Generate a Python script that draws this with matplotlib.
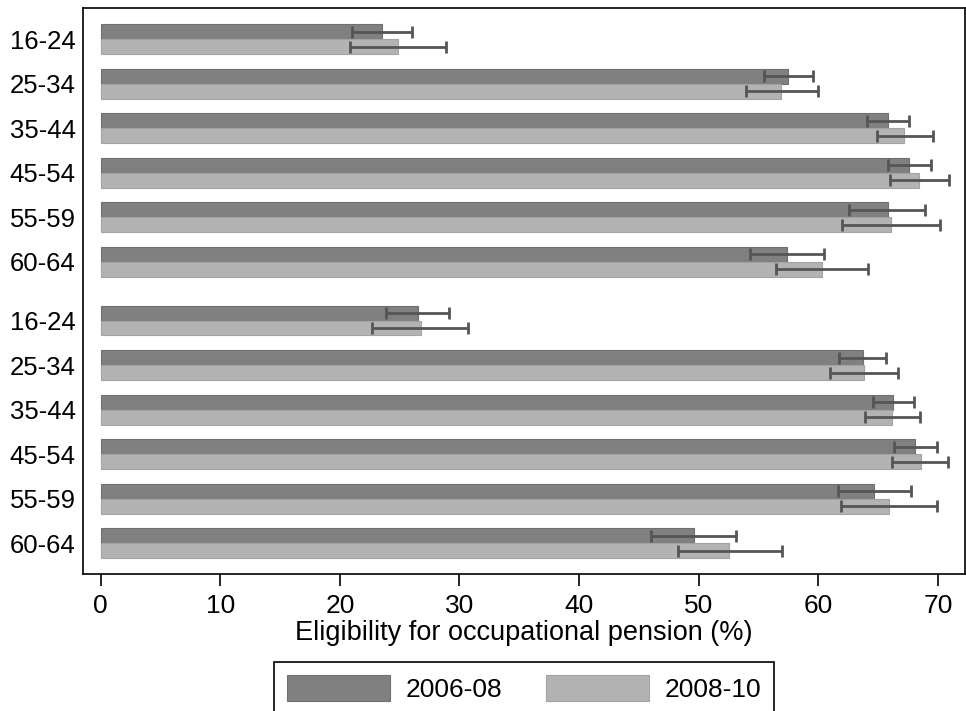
import numpy as np
import matplotlib
matplotlib.use('Agg')
import matplotlib.pyplot as plt

plt.rcParams['font.family'] = ['Liberation Sans', 'DejaVu Sans']

# two blocks of age bands, one after the other
age_bands = ['16-24', '25-34', '35-44', '45-54', '55-59', '60-64']
labels = age_bands + age_bands

# 2006-08
early = [23.5, 57.5, 65.8, 67.6, 65.8, 57.4, 26.5, 63.7, 66.25, 68.05, 64.7, 49.6]
early_lo = [21.0, 55.5, 64.1, 65.8, 62.6, 54.3, 23.85, 61.7, 64.6, 66.3, 61.65, 46.05]
early_hi = [26.05, 59.6, 67.6, 69.45, 68.9, 60.5, 29.1, 65.7, 68.0, 69.9, 67.75, 53.15]

# 2008-10
late = [24.9, 56.9, 67.2, 68.45, 66.05, 60.3, 26.75, 63.85, 66.2, 68.55, 65.9, 52.55]
late_lo = [20.85, 53.95, 64.9, 66.0, 61.95, 56.5, 22.7, 61.0, 63.9, 66.15, 61.9, 48.25]
late_hi = [28.85, 60.0, 69.6, 70.9, 70.15, 64.15, 30.7, 66.7, 68.5, 70.85, 69.9, 56.95]

dark = '#808080'
light = '#b3b3b3'
err_col = '#555555'

n = len(age_bands)
idx = np.arange(len(labels))
ypos = idx + (idx >= n) * 0.32
h = 0.336

fig = plt.figure(figsize=(9.66, 7.11), dpi=100)
ax = fig.add_axes([0.0856, 0.1923, 0.9134, 0.7964])

early = np.array(early)
late = np.array(late)
b1 = ax.barh(ypos - h / 2, early, height=h, color=dark, edgecolor='#707070',
             linewidth=0.8, label='2006-08')
b2 = ax.barh(ypos + h / 2, late, height=h, color=light, edgecolor='#a3a3a3',
             linewidth=0.8, label='2008-10')

ax.errorbar(early, ypos - h / 2,
            xerr=[early - np.array(early_lo), np.array(early_hi) - early],
            fmt='none', ecolor=err_col, elinewidth=2, capsize=4, capthick=2)
ax.errorbar(late, ypos + h / 2,
            xerr=[late - np.array(late_lo), np.array(late_hi) - late],
            fmt='none', ecolor=err_col, elinewidth=2, capsize=4, capthick=2)

ax.set_xlim(-1.5, 72.27)
ax.set_ylim(ypos[-1] + 0.7, ypos[0] - 0.7)
ax.set_xticks(range(0, 71, 10))
ax.set_yticks(ypos)
ax.set_yticklabels(labels)
ax.tick_params(axis='y', length=0, pad=5, labelsize=18.5)
ax.tick_params(axis='x', length=8.5, width=1.2, pad=6, labelsize=19)
for s in ax.spines.values():
    s.set_linewidth(1.2)
ax.set_xlabel('Eligibility for occupational pension (%)', fontsize=19.5, labelpad=1)

fig.legend(handles=[b1, b2], loc='upper center', bbox_to_anchor=(0.5425, 0.0693),
           borderaxespad=0, ncol=2, fontsize=19, frameon=True, fancybox=False,
           edgecolor='black', framealpha=1, handlelength=3.9, handleheight=1.15,
           handletextpad=0.6, columnspacing=1.65, borderpad=0.5)
fig.legends[0].get_frame().set_linewidth(1.2)

fig.savefig('out.png', dpi=100)
